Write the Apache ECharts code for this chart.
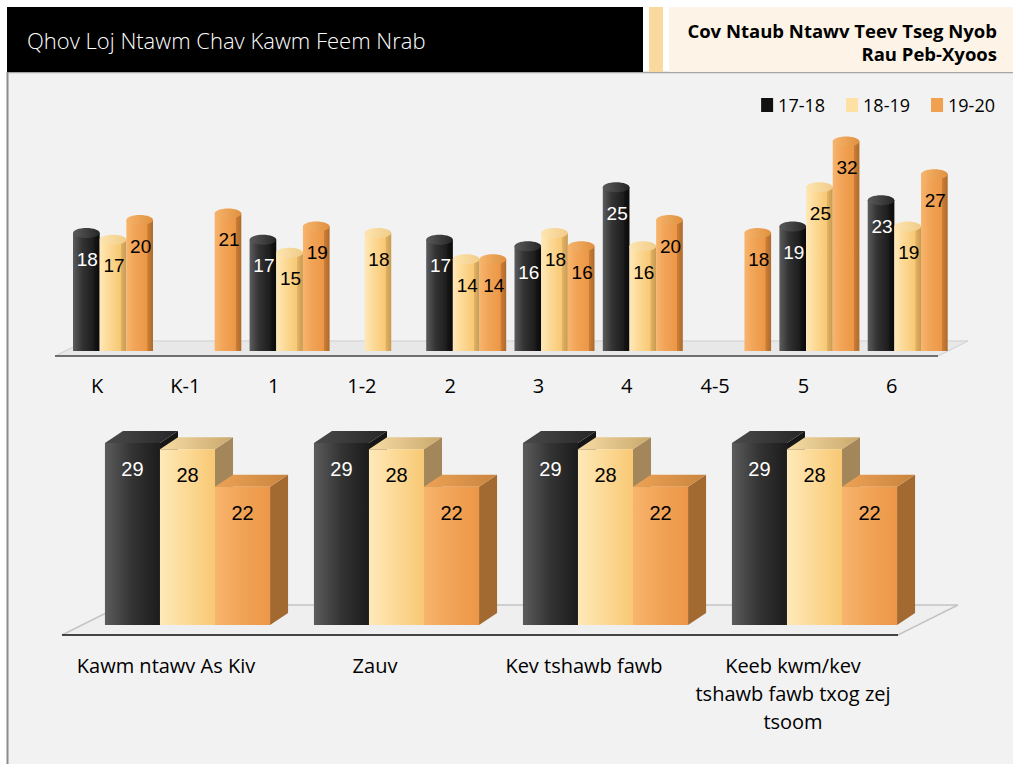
<!DOCTYPE html>
<html><head><meta charset="utf-8">
<script src="https://cdn.jsdelivr.net/npm/echarts@6/dist/echarts.min.js"></script>
<style>html,body{margin:0;padding:0;background:#fff;}#c{width:1013px;height:764px;}</style>
</head><body><div id="c"></div>
<script>
// ---- data ----
const seriesNames = ['17-18', '18-19', '19-20'];
const gradeCats = ['K', 'K-1', '1', '1-2', '2', '3', '4', '4-5', '5', '6'];
const grade1718 = [18, null, 17, null, 17, 16, 25, null, 19, 23];
const grade1819 = [17, null, 15, 18, 14, 18, 16, null, 25, 19];
const grade1920 = [20, 21, 19, null, 14, 16, 20, 18, 32, 27];
const subjectCats = ['Kawm ntawv As Kiv', 'Zauv', 'Kev tshawb fawb', 'Keeb kwm/kev tshawb fawb txog zej tsoom'];
const subjectTickLabels = ['Kawm ntawv As Kiv', 'Zauv', 'Kev tshawb fawb', 'Keeb kwm/kev\ntshawb fawb txog zej\ntsoom'];
const subject1718 = [29, 29, 29, 29];
const subject1819 = [28, 28, 28, 28];
const subject1920 = [22, 22, 22, 22];
const titleText = 'Qhov Loj Ntawm Chav Kawm Feem Nrab';
const subtitleLines = ['Cov Ntaub Ntawv Teev Tseg Nyob', 'Rau Peb-Xyoos'];

// ---- styles ----
const PAL = [
  { f: ['#5c5c5c', '#333333', '#1c1c1c'], side: ['#151515', '#0a0a0a'], cap: ['#5a5a5a', '#262626'], top: ['#4a4a4a', '#262626'], boxSide: '#161616', label: '#ffffff', legend: '#111111' },
  { f: ['#fee9b9', '#fcd995', '#f8c874'], side: ['#e2b263', '#c89a52'], cap: ['#fde5b0', '#f1cc88'], top: ['#f6dca4', '#c9a86c'], boxSide: '#a3865a', label: '#000000', legend: '#fde0a2' },
  { f: ['#f7b56d', '#f1a356', '#ec9747'], side: ['#cc7e35', '#ad6a2c'], cap: ['#f6b46c', '#e0913f'], top: ['#eda356', '#c9843e'], boxSide: '#a26a31', label: '#000000', legend: '#f0a04e' }
];
const FONT = '"Open Sans", "Noto Sans", sans-serif';
const NUMFONT = '"Liberation Sans", Arial, sans-serif';
const LG = (stops) => new echarts.graphic.LinearGradient(0, 0, 1, 0, stops.map((c, i) => ({ offset: i / (stops.length - 1), color: c })));

function cylRenderer(idx) {
  return function (params, api) {
    const v = api.value(1);
    if (v === null || v === undefined || isNaN(v)) return;
    const c = api.value(0);
    const p = api.coord([c, v]);
    const b = api.coord([c, 0]);
    const band = api.size([1, 0])[0];
    const gw = band * 0.906, bw = gw / 3;
    const x = p[0] - gw / 2 + idx * bw;
    const P = PAL[idx];
    const fill = new echarts.graphic.LinearGradient(0, 0, 1, 0, [
      { offset: 0, color: P.f[0] }, { offset: 0.35, color: P.f[1] }, { offset: 0.78, color: P.f[2] },
      { offset: 0.8, color: P.side[0] }, { offset: 1, color: P.side[1] }
    ]);
    return {
      type: 'group', children: [
        { type: 'rect', shape: { x: x, y: p[1], width: bw, height: b[1] - p[1] }, style: { fill: fill } },
        { type: 'ellipse', shape: { cx: x + bw / 2, cy: p[1], rx: bw / 2, ry: 5 }, style: { fill: LG(P.cap) } },
        { type: 'text', z2: 100, style: { text: String(v), x: x + bw / 2 + 1, y: p[1] + 26, align: 'center', verticalAlign: 'middle', font: '19px ' + NUMFONT, fill: P.label } }
      ]
    };
  };
}

function boxRenderer(idx) {
  return function (params, api) {
    const v = api.value(1);
    if (v === null || v === undefined || isNaN(v)) return;
    const c = api.value(0);
    const p = api.coord([c, v]);
    const b = api.coord([c, 0]);
    const band = api.size([1, 0])[0];
    const gw = band * 0.79, bw = gw / 3;
    const x = p[0] - gw / 2 + idx * bw, y = p[1], by = b[1];
    const dx = 18, dy = 12;
    const P = PAL[idx];
    return {
      type: 'group', children: [
        { type: 'polygon', shape: { points: [[x + bw, y], [x + bw + dx, y - dy], [x + bw + dx, by - dy], [x + bw, by]] }, style: { fill: P.boxSide } },
        { type: 'polygon', shape: { points: [[x, y], [x + bw, y], [x + bw + dx, y - dy], [x + dx, y - dy]] }, style: { fill: LG(P.top) } },
        { type: 'rect', shape: { x: x, y: y, width: bw, height: by - y }, style: { fill: LG(P.f) } },
        { type: 'text', z2: 100, style: { text: String(v), x: x + bw / 2, y: y + 26, align: 'center', verticalAlign: 'middle', font: '20px ' + NUMFONT, fill: P.label } }
      ]
    };
  };
}

const gradeData = [grade1718, grade1819, grade1920];
const subjectData = [subject1718, subject1819, subject1920];

const series = [];
seriesNames.forEach((name, i) => {
  series.push({
    type: 'custom', name: name, xAxisIndex: 0, yAxisIndex: 0,
    itemStyle: { color: PAL[i].legend },
    renderItem: cylRenderer(i),
    data: gradeData[i].map((v, k) => [k, v])
  });
});
seriesNames.forEach((name, i) => {
  series.push({
    type: 'custom', name: name, xAxisIndex: 1, yAxisIndex: 1,
    itemStyle: { color: PAL[i].legend },
    renderItem: boxRenderer(i),
    data: subjectData[i].map((v, k) => [k, v])
  });
});

const chart = echarts.init(document.getElementById('c'), null, { renderer: 'svg', width: 1013, height: 764 });
chart.setOption({
  animation: false,
  backgroundColor: '#ffffff',
  legend: {
    data: seriesNames, right: 13, top: 91, icon: 'rect', itemWidth: 12, itemHeight: 14, itemGap: 21,
    textStyle: { fontSize: 18, fontFamily: FONT, color: '#000' }
  },
  grid: [
    { left: 68.85, width: 883, top: 121.75, height: 229.25 },
    { left: 83, width: 836, top: 405.2, height: 219.8 }
  ],
  xAxis: [
    {
      type: 'category', gridIndex: 0, data: gradeCats,
      axisLine: { show: false }, axisTick: { show: false },
      axisLabel: { interval: 0, margin: 24, fontSize: 20, fontFamily: FONT, color: '#000', padding: [0, 32, 0, 0] }
    },
    {
      type: 'category', gridIndex: 1, data: subjectCats,
      axisLine: { show: false }, axisTick: { show: false },
      axisLabel: {
        interval: 0, margin: 26, fontSize: 20, lineHeight: 28, fontFamily: FONT, color: '#000', padding: [0, 43, 0, 0],
        formatter: (val, i) => subjectTickLabels[i]
      }
    }
  ],
  yAxis: [
    { type: 'value', gridIndex: 0, min: 0, max: 35, show: false, splitLine: { show: false } },
    { type: 'value', gridIndex: 1, min: 0, max: 35, show: false, splitLine: { show: false } }
  ],
  graphic: [
    // panel
    { type: 'rect', z: 0, shape: { x: 7, y: 72, width: 1010, height: 700 }, style: { fill: '#f2f2f2' } },
    { type: 'line', z: 0, shape: { x1: 7, y1: 72.5, x2: 1013, y2: 72.5 }, style: { stroke: '#a6a6a6', lineWidth: 1.5 } },
    { type: 'line', z: 0, shape: { x1: 7.5, y1: 72, x2: 7.5, y2: 764 }, style: { stroke: '#8c8c8c', lineWidth: 2 } },
    // header
    { type: 'rect', z: 0, shape: { x: 7, y: 7, width: 636, height: 65 }, style: { fill: '#000000' } },
    { type: 'rect', z: 0, shape: { x: 649, y: 7, width: 14, height: 65 }, style: { fill: '#f9d99d' } },
    { type: 'rect', z: 0, shape: { x: 669, y: 7, width: 344, height: 65 }, style: { fill: '#fdf4e7' } },
    { type: 'text', z: 1, style: { text: titleText, x: 27, y: 40, verticalAlign: 'middle', font: '300 22px ' + FONT, fill: '#ffffff' } },
    { type: 'text', z: 1, style: { text: subtitleLines[0], x: 997, y: 30, align: 'right', verticalAlign: 'middle', font: 'bold 18.5px ' + FONT, fill: '#000' } },
    { type: 'text', z: 1, style: { text: subtitleLines[1], x: 997, y: 53, align: 'right', verticalAlign: 'middle', font: 'bold 18.5px ' + FONT, fill: '#000' } },
    // top floor
    { type: 'polygon', z: 1, shape: { points: [[55, 356], [938, 356], [968, 341], [85, 341]] }, style: { fill: '#e8e8e8', stroke: '#cfcfcf', lineWidth: 1 } },
    { type: 'line', z: 1, shape: { x1: 55, y1: 356, x2: 938, y2: 356 }, style: { stroke: '#6f6f6f', lineWidth: 2 } },
    // bottom floor
    { type: 'polygon', z: 1, shape: { points: [[62, 635], [898, 635], [958, 605], [122, 605]] }, style: { fill: '#efefef', stroke: '#c4c4c4', lineWidth: 1.5 } },
    { type: 'line', z: 1, shape: { x1: 62, y1: 635, x2: 898, y2: 635 }, style: { stroke: '#444', lineWidth: 2 } }
  ],
  series: series
});
</script>
</body></html>
